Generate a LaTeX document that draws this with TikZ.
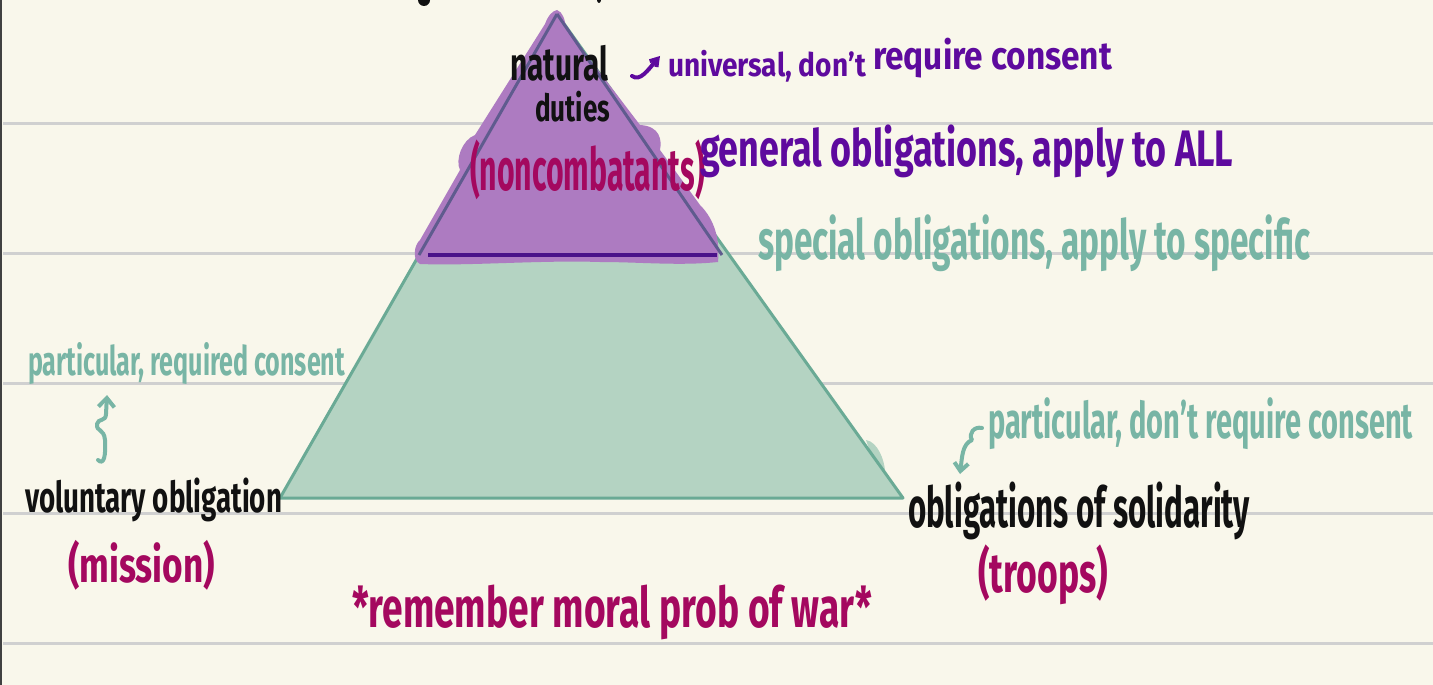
\documentclass[tikz,border=0pt]{standalone}
\usepackage{fontspec}
\setmainfont{Fira Sans}
\usetikzlibrary{arrows.meta}
\definecolor{paper}{HTML}{F9F7EB}
\definecolor{rule}{HTML}{D0D0D0}
\definecolor{ink}{HTML}{111111}
\definecolor{pink}{HTML}{A4085F}
\definecolor{violet}{HTML}{5E0A9E}
\definecolor{teal}{HTML}{78B5A5}
\definecolor{greenfill}{HTML}{B4D3C2}
\definecolor{greenedge}{HTML}{6AAA95}
\definecolor{purplefill}{HTML}{AD7BC1}
\definecolor{purpleedge}{HTML}{5F5B8E}
\definecolor{purpleline}{HTML}{4A1289}
\newcommand{\hw}[3]{\resizebox*{#1pt}{#2pt}{\bfseries #3}}
\tikzset{
  hand/.style={anchor=north west, inner sep=0pt, outer sep=0pt},
  ruled/.style={draw=rule, line width=3pt},
  pen/.style={line width=4pt, line cap=round, line join=round},
}
\begin{document}
\begin{tikzpicture}[x=1pt,y=-1pt]
\useasboundingbox (0,0) rectangle (1433,685);
\fill[paper] (0,0) rectangle (1433,685);
\fill[ink!80] (0,0) rectangle (2,685);
\foreach \yy in {123,253,383,513,643} \draw[ruled] (3,\yy) -- (1433,\yy);
% cut-off title marks
\fill[ink] (424,0) circle (6);
\fill[ink] (599,0) ellipse (2 and 3);
% triangle
\coordinate (apex) at (557,14);
\coordinate (bl) at (280,498);
\coordinate (br) at (903,498);
\fill[greenfill] (apex) -- (bl) -- (br) -- cycle;
\fill[greenfill] (866,440) .. controls (878,442) and (884,460) .. (885,470) -- (880,480) -- cycle;
\draw[greenedge, line width=3pt, line join=round] (apex) -- (bl) -- (br) -- cycle;
% purple top part
\fill[purplefill] (557,10) .. controls (563,12) and (565,20) .. (566,28)
  -- (640,125) .. controls (660,126) and (662,140) .. (660,150)
  -- (700,205) .. controls (715,220) and (720,240) .. (718,262)
  .. controls (680,266) and (640,262) .. (600,262)
  .. controls (540,260) and (470,266) .. (420,264)
  .. controls (412,260) and (414,245) .. (420,240)
  -- (460,170) .. controls (455,160) and (462,140) .. (475,135)
  -- (545,24) .. controls (548,16) and (552,11) .. (557,10) -- cycle;
\draw[purpleedge, line width=3pt] (apex) -- (419,255);
\draw[purpleedge, line width=3pt] (apex) -- (722,255);
\draw[purpleline, line width=4pt] (428,255) -- (717,255);
% texts
\node[hand] (nat) at (510,45) {\hw{98}{36}{\color{ink}natural}};
\node[hand] (dut) at (535,91) {\hw{75}{31}{\color{ink}duties}};
\node[hand] (univ) at (668,50) {\hw{198}{32}{\color{violet}universal, don't}};
\node[hand] (req) at (873,38) {\hw{239}{40}{\color{violet}require consent}};
\node[hand] (nonc) at (470,140) {\hw{235}{60}{\color{pink}(noncombatants)}};
\node[hand] (gen) at (700,125) {\hw{533}{53}{\color{violet}general obligations, apply to ALL}};
\node[hand] (spec) at (758,215) {\hw{552}{57}{\color{teal}special obligations, apply to specific}};
\node[hand] (preq) at (28,343) {\hw{317}{42}{\color{teal}particular, required consent}};
\node[hand] (vol) at (25,478) {\hw{257}{44}{\color{ink}voluntary obligation}};
\node[hand] (miss) at (68,540) {\hw{147}{50}{\color{pink}(mission)}};
\node[hand] (pdont) at (988,398) {\hw{425}{52}{\color{teal}particular, don't require consent}};
\node[hand] (sol) at (908,482) {\hw{342}{58}{\color{ink}obligations of solidarity}};
\node[hand] (troops) at (978,545) {\hw{130}{60}{\color{pink}(troops)}};
\node[hand] (rem) at (352,585) {\hw{520}{55}{\color{pink}*remember moral prob of war*}};
% arrows
\coordinate (a1s) at (632,76);
\coordinate (a1e) at (660,56);
\draw[violet, pen, -{Straight Barb[length=7pt,width=9pt]}] (a1s) .. controls (640,82) and (648,70) .. (a1e);
\coordinate (a2s) at (98,460);
\coordinate (a2e) at (107,395);
\draw[teal, pen, -{Straight Barb[length=9pt,width=16pt]}] (a2s) .. controls (104,466) and (106,455) .. (105,440)
  .. controls (104,428) and (96,432) .. (97,424) .. controls (98,418) and (106,422) .. (106,414) -- (a2e);
\coordinate (a3s) at (982,428);
\coordinate (a3e) at (960,474);
\draw[teal, pen, -{Straight Barb[length=8pt,width=14pt]}] (a3s) .. controls (974,426) and (968,434) .. (972,440)
  .. controls (962,444) and (962,458) .. (a3e);
\end{tikzpicture}
\end{document}
